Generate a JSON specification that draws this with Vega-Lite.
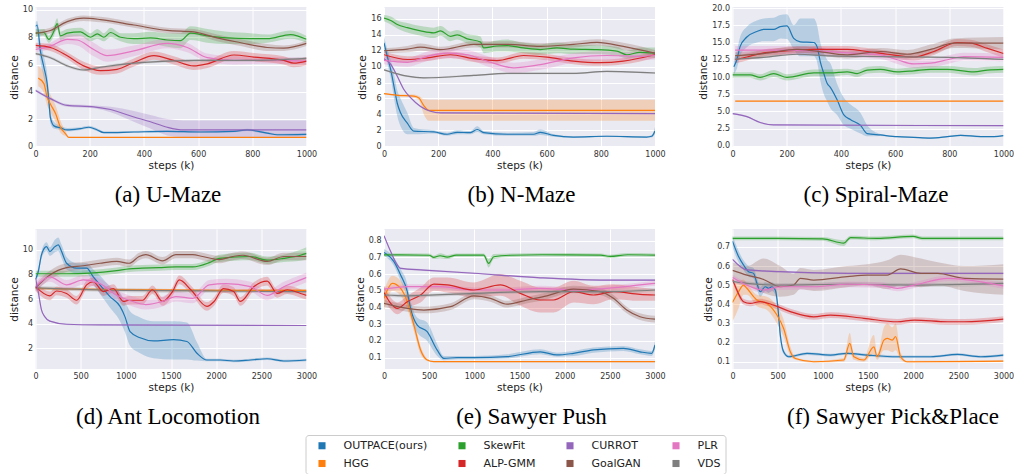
{
"$schema": "https://vega.github.io/schema/vega-lite/v6.json",
"padding": {"left": 8.5, "top": 4, "right": 2, "bottom": 0},
"background": "white",
"data": {"values": [
{"p":"a","m":"OUTPACE(ours)","x":0,"y":8.8,"lo":8.5,"hi":9.1},
{"p":"a","m":"OUTPACE(ours)","x":6,"y":8.9,"lo":8.5,"hi":9.2},
{"p":"a","m":"OUTPACE(ours)","x":18,"y":7.0,"lo":6.3,"hi":7.7},
{"p":"a","m":"OUTPACE(ours)","x":31,"y":5.8,"lo":5.0,"hi":6.6},
{"p":"a","m":"OUTPACE(ours)","x":43,"y":4.6,"lo":3.9,"hi":5.3},
{"p":"a","m":"OUTPACE(ours)","x":49,"y":3.4,"lo":2.8,"hi":4.1},
{"p":"a","m":"OUTPACE(ours)","x":55,"y":2.1,"lo":1.7,"hi":2.6},
{"p":"a","m":"OUTPACE(ours)","x":68,"y":1.5,"lo":1.3,"hi":1.8},
{"p":"a","m":"OUTPACE(ours)","x":92,"y":1.35,"lo":1.2,"hi":1.5},
{"p":"a","m":"OUTPACE(ours)","x":117,"y":1.2,"lo":1.1,"hi":1.35},
{"p":"a","m":"OUTPACE(ours)","x":166,"y":1.3,"lo":1.2,"hi":1.4},
{"p":"a","m":"OUTPACE(ours)","x":197,"y":1.4,"lo":1.3,"hi":1.5},
{"p":"a","m":"OUTPACE(ours)","x":228,"y":1.2,"lo":1.1,"hi":1.3},
{"p":"a","m":"OUTPACE(ours)","x":252,"y":1.0,"lo":0.95,"hi":1.1},
{"p":"a","m":"OUTPACE(ours)","x":363,"y":1.05,"lo":1.0,"hi":1.12},
{"p":"a","m":"OUTPACE(ours)","x":486,"y":1.1,"lo":1.03,"hi":1.17},
{"p":"a","m":"OUTPACE(ours)","x":609,"y":1.05,"lo":1.0,"hi":1.12},
{"p":"a","m":"OUTPACE(ours)","x":732,"y":1.1,"lo":1.03,"hi":1.17},
{"p":"a","m":"OUTPACE(ours)","x":781,"y":1.2,"lo":1.12,"hi":1.28},
{"p":"a","m":"OUTPACE(ours)","x":855,"y":0.97,"lo":0.9,"hi":1.05},
{"p":"a","m":"OUTPACE(ours)","x":892,"y":0.85,"lo":0.8,"hi":0.92},
{"p":"a","m":"OUTPACE(ours)","x":1000,"y":0.88,"lo":0.82,"hi":0.95},
{"p":"a","m":"HGG","x":10,"y":5.0,"lo":4.4,"hi":5.9},
{"p":"a","m":"HGG","x":31,"y":4.6,"lo":3.9,"hi":5.4},
{"p":"a","m":"HGG","x":43,"y":3.6,"lo":3.0,"hi":4.4},
{"p":"a","m":"HGG","x":55,"y":3.1,"lo":2.5,"hi":3.8},
{"p":"a","m":"HGG","x":74,"y":2.4,"lo":1.8,"hi":3.0},
{"p":"a","m":"HGG","x":92,"y":1.4,"lo":1.0,"hi":1.9},
{"p":"a","m":"HGG","x":111,"y":0.92,"lo":0.75,"hi":1.1},
{"p":"a","m":"HGG","x":123,"y":0.65,"lo":0.63,"hi":0.7},
{"p":"a","m":"HGG","x":200,"y":0.65,"lo":0.64,"hi":0.66},
{"p":"a","m":"HGG","x":1000,"y":0.65,"lo":0.64,"hi":0.66},
{"p":"a","m":"SkewFit","x":0,"y":8.3,"lo":8.0,"hi":8.6},
{"p":"a","m":"SkewFit","x":31,"y":8.35,"lo":8.1,"hi":8.6},
{"p":"a","m":"SkewFit","x":49,"y":7.85,"lo":7.6,"hi":8.1},
{"p":"a","m":"SkewFit","x":68,"y":8.45,"lo":8.1,"hi":8.8},
{"p":"a","m":"SkewFit","x":80,"y":9.0,"lo":8.6,"hi":9.4},
{"p":"a","m":"SkewFit","x":92,"y":8.1,"lo":7.8,"hi":8.4},
{"p":"a","m":"SkewFit","x":117,"y":8.3,"lo":8.0,"hi":8.6},
{"p":"a","m":"SkewFit","x":166,"y":8.4,"lo":8.1,"hi":8.7},
{"p":"a","m":"SkewFit","x":203,"y":8.0,"lo":7.7,"hi":8.3},
{"p":"a","m":"SkewFit","x":228,"y":8.25,"lo":7.9,"hi":8.6},
{"p":"a","m":"SkewFit","x":252,"y":8.0,"lo":7.7,"hi":8.3},
{"p":"a","m":"SkewFit","x":277,"y":8.35,"lo":8.0,"hi":8.7},
{"p":"a","m":"SkewFit","x":314,"y":8.0,"lo":7.7,"hi":8.3},
{"p":"a","m":"SkewFit","x":363,"y":7.9,"lo":7.5,"hi":8.3},
{"p":"a","m":"SkewFit","x":424,"y":7.95,"lo":7.5,"hi":8.4},
{"p":"a","m":"SkewFit","x":486,"y":7.8,"lo":7.3,"hi":8.3},
{"p":"a","m":"SkewFit","x":535,"y":7.75,"lo":7.2,"hi":8.3},
{"p":"a","m":"SkewFit","x":572,"y":8.3,"lo":7.8,"hi":8.8},
{"p":"a","m":"SkewFit","x":634,"y":8.1,"lo":7.6,"hi":8.6},
{"p":"a","m":"SkewFit","x":707,"y":7.95,"lo":7.5,"hi":8.4},
{"p":"a","m":"SkewFit","x":793,"y":7.9,"lo":7.5,"hi":8.3},
{"p":"a","m":"SkewFit","x":855,"y":7.9,"lo":7.6,"hi":8.2},
{"p":"a","m":"SkewFit","x":941,"y":8.2,"lo":7.9,"hi":8.5},
{"p":"a","m":"SkewFit","x":1000,"y":7.85,"lo":7.6,"hi":8.1},
{"p":"a","m":"GoalGAN","x":0,"y":8.3,"lo":8.1,"hi":8.5},
{"p":"a","m":"GoalGAN","x":55,"y":8.5,"lo":8.3,"hi":8.7},
{"p":"a","m":"GoalGAN","x":117,"y":9.15,"lo":8.95,"hi":9.35},
{"p":"a","m":"GoalGAN","x":178,"y":9.4,"lo":9.2,"hi":9.6},
{"p":"a","m":"GoalGAN","x":240,"y":9.3,"lo":9.1,"hi":9.5},
{"p":"a","m":"GoalGAN","x":363,"y":8.9,"lo":8.7,"hi":9.1},
{"p":"a","m":"GoalGAN","x":486,"y":8.5,"lo":8.3,"hi":8.7},
{"p":"a","m":"GoalGAN","x":584,"y":8.4,"lo":8.2,"hi":8.6},
{"p":"a","m":"GoalGAN","x":670,"y":7.95,"lo":7.7,"hi":8.2},
{"p":"a","m":"GoalGAN","x":758,"y":7.6,"lo":7.35,"hi":7.85},
{"p":"a","m":"GoalGAN","x":855,"y":7.25,"lo":7.0,"hi":7.5},
{"p":"a","m":"GoalGAN","x":916,"y":7.2,"lo":7.0,"hi":7.4},
{"p":"a","m":"GoalGAN","x":1000,"y":7.55,"lo":7.35,"hi":7.75},
{"p":"a","m":"PLR","x":0,"y":7.1,"lo":6.9,"hi":7.3},
{"p":"a","m":"PLR","x":55,"y":7.35,"lo":7.1,"hi":7.6},
{"p":"a","m":"PLR","x":117,"y":7.85,"lo":7.5,"hi":8.2},
{"p":"a","m":"PLR","x":154,"y":7.8,"lo":7.4,"hi":8.2},
{"p":"a","m":"PLR","x":215,"y":7.1,"lo":6.6,"hi":7.6},
{"p":"a","m":"PLR","x":264,"y":6.65,"lo":6.2,"hi":7.1},
{"p":"a","m":"PLR","x":363,"y":7.0,"lo":6.6,"hi":7.4},
{"p":"a","m":"PLR","x":486,"y":7.55,"lo":7.2,"hi":7.9},
{"p":"a","m":"PLR","x":560,"y":7.25,"lo":6.9,"hi":7.6},
{"p":"a","m":"PLR","x":634,"y":6.5,"lo":6.2,"hi":6.8},
{"p":"a","m":"PLR","x":732,"y":6.3,"lo":6.0,"hi":6.6},
{"p":"a","m":"PLR","x":855,"y":6.3,"lo":6.05,"hi":6.55},
{"p":"a","m":"PLR","x":1000,"y":6.25,"lo":6.0,"hi":6.5},
{"p":"a","m":"ALP-GMM","x":0,"y":7.4,"lo":7.2,"hi":7.6},
{"p":"a","m":"ALP-GMM","x":55,"y":7.25,"lo":7.0,"hi":7.5},
{"p":"a","m":"ALP-GMM","x":117,"y":6.65,"lo":6.4,"hi":6.9},
{"p":"a","m":"ALP-GMM","x":178,"y":5.9,"lo":5.6,"hi":6.2},
{"p":"a","m":"ALP-GMM","x":240,"y":5.55,"lo":5.25,"hi":5.85},
{"p":"a","m":"ALP-GMM","x":301,"y":5.65,"lo":5.35,"hi":5.95},
{"p":"a","m":"ALP-GMM","x":363,"y":6.15,"lo":5.85,"hi":6.45},
{"p":"a","m":"ALP-GMM","x":437,"y":6.65,"lo":6.35,"hi":6.95},
{"p":"a","m":"ALP-GMM","x":510,"y":6.3,"lo":6.0,"hi":6.6},
{"p":"a","m":"ALP-GMM","x":584,"y":5.9,"lo":5.6,"hi":6.2},
{"p":"a","m":"ALP-GMM","x":634,"y":6.05,"lo":5.75,"hi":6.35},
{"p":"a","m":"ALP-GMM","x":732,"y":6.7,"lo":6.4,"hi":7.0},
{"p":"a","m":"ALP-GMM","x":806,"y":6.55,"lo":6.25,"hi":6.85},
{"p":"a","m":"ALP-GMM","x":916,"y":6.3,"lo":6.0,"hi":6.6},
{"p":"a","m":"ALP-GMM","x":953,"y":6.1,"lo":5.8,"hi":6.4},
{"p":"a","m":"ALP-GMM","x":1000,"y":6.25,"lo":5.95,"hi":6.55},
{"p":"a","m":"VDS","x":0,"y":6.8,"lo":6.7,"hi":6.9},
{"p":"a","m":"VDS","x":55,"y":6.5,"lo":6.4,"hi":6.6},
{"p":"a","m":"VDS","x":117,"y":5.9,"lo":5.8,"hi":6.0},
{"p":"a","m":"VDS","x":178,"y":5.6,"lo":5.5,"hi":5.7},
{"p":"a","m":"VDS","x":240,"y":5.8,"lo":5.7,"hi":5.9},
{"p":"a","m":"VDS","x":363,"y":6.1,"lo":6.0,"hi":6.2},
{"p":"a","m":"VDS","x":486,"y":6.25,"lo":6.15,"hi":6.35},
{"p":"a","m":"VDS","x":609,"y":6.3,"lo":6.2,"hi":6.4},
{"p":"a","m":"VDS","x":793,"y":6.3,"lo":6.2,"hi":6.4},
{"p":"a","m":"VDS","x":1000,"y":6.45,"lo":6.35,"hi":6.55},
{"p":"a","m":"CURROT","x":0,"y":4.1,"lo":4.0,"hi":4.2},
{"p":"a","m":"CURROT","x":55,"y":3.5,"lo":3.4,"hi":3.6},
{"p":"a","m":"CURROT","x":117,"y":3.0,"lo":2.9,"hi":3.1},
{"p":"a","m":"CURROT","x":215,"y":2.9,"lo":2.8,"hi":3.0},
{"p":"a","m":"CURROT","x":277,"y":2.7,"lo":2.5,"hi":2.9},
{"p":"a","m":"CURROT","x":363,"y":2.15,"lo":1.8,"hi":2.6},
{"p":"a","m":"CURROT","x":424,"y":1.8,"lo":1.3,"hi":2.3},
{"p":"a","m":"CURROT","x":486,"y":1.4,"lo":0.8,"hi":2.0},
{"p":"a","m":"CURROT","x":547,"y":1.2,"lo":0.68,"hi":1.9},
{"p":"a","m":"CURROT","x":1000,"y":1.2,"lo":0.68,"hi":1.9},
{"p":"b","m":"OUTPACE(ours)","x":0,"y":13.0,"lo":12.5,"hi":13.8},
{"p":"b","m":"OUTPACE(ours)","x":12,"y":11.3,"lo":10.5,"hi":12.2},
{"p":"b","m":"OUTPACE(ours)","x":25,"y":9.6,"lo":8.5,"hi":10.8},
{"p":"b","m":"OUTPACE(ours)","x":37,"y":7.5,"lo":6.0,"hi":9.0},
{"p":"b","m":"OUTPACE(ours)","x":49,"y":5.4,"lo":3.8,"hi":7.0},
{"p":"b","m":"OUTPACE(ours)","x":61,"y":4.2,"lo":2.5,"hi":6.0},
{"p":"b","m":"OUTPACE(ours)","x":86,"y":2.9,"lo":1.5,"hi":4.2},
{"p":"b","m":"OUTPACE(ours)","x":110,"y":1.9,"lo":1.5,"hi":2.3},
{"p":"b","m":"OUTPACE(ours)","x":184,"y":1.8,"lo":1.6,"hi":2.0},
{"p":"b","m":"OUTPACE(ours)","x":233,"y":1.5,"lo":1.3,"hi":1.7},
{"p":"b","m":"OUTPACE(ours)","x":270,"y":1.75,"lo":1.5,"hi":2.0},
{"p":"b","m":"OUTPACE(ours)","x":319,"y":1.7,"lo":1.5,"hi":1.9},
{"p":"b","m":"OUTPACE(ours)","x":344,"y":2.1,"lo":1.8,"hi":2.5},
{"p":"b","m":"OUTPACE(ours)","x":368,"y":1.7,"lo":1.5,"hi":1.9},
{"p":"b","m":"OUTPACE(ours)","x":454,"y":1.5,"lo":1.3,"hi":1.7},
{"p":"b","m":"OUTPACE(ours)","x":552,"y":1.5,"lo":1.3,"hi":1.8},
{"p":"b","m":"OUTPACE(ours)","x":577,"y":1.75,"lo":1.4,"hi":2.1},
{"p":"b","m":"OUTPACE(ours)","x":626,"y":1.35,"lo":1.2,"hi":1.5},
{"p":"b","m":"OUTPACE(ours)","x":699,"y":1.15,"lo":1.05,"hi":1.25},
{"p":"b","m":"OUTPACE(ours)","x":822,"y":1.25,"lo":1.15,"hi":1.35},
{"p":"b","m":"OUTPACE(ours)","x":969,"y":1.15,"lo":1.05,"hi":1.25},
{"p":"b","m":"OUTPACE(ours)","x":988,"y":1.25,"lo":1.1,"hi":1.4},
{"p":"b","m":"OUTPACE(ours)","x":1000,"y":1.9,"lo":1.5,"hi":2.4},
{"p":"b","m":"HGG","x":0,"y":6.6,"lo":6.5,"hi":6.7},
{"p":"b","m":"HGG","x":49,"y":6.4,"lo":6.3,"hi":6.5},
{"p":"b","m":"HGG","x":110,"y":6.3,"lo":6.1,"hi":6.5},
{"p":"b","m":"HGG","x":129,"y":6.05,"lo":5.8,"hi":6.3},
{"p":"b","m":"HGG","x":147,"y":5.1,"lo":4.0,"hi":5.9},
{"p":"b","m":"HGG","x":166,"y":4.5,"lo":3.2,"hi":5.85},
{"p":"b","m":"HGG","x":1000,"y":4.5,"lo":3.2,"hi":5.85},
{"p":"b","m":"CURROT","x":0,"y":11.0,"lo":10.9,"hi":11.1},
{"p":"b","m":"CURROT","x":25,"y":10.3,"lo":10.2,"hi":10.4},
{"p":"b","m":"CURROT","x":49,"y":8.8,"lo":8.7,"hi":8.9},
{"p":"b","m":"CURROT","x":74,"y":7.1,"lo":7.0,"hi":7.2},
{"p":"b","m":"CURROT","x":98,"y":6.1,"lo":6.0,"hi":6.2},
{"p":"b","m":"CURROT","x":135,"y":5.0,"lo":4.9,"hi":5.1},
{"p":"b","m":"CURROT","x":172,"y":4.4,"lo":4.3,"hi":4.5},
{"p":"b","m":"CURROT","x":209,"y":4.2,"lo":4.1,"hi":4.3},
{"p":"b","m":"CURROT","x":1000,"y":4.1,"lo":4.0,"hi":4.2},
{"p":"b","m":"SkewFit","x":0,"y":16.1,"lo":15.7,"hi":16.5},
{"p":"b","m":"SkewFit","x":25,"y":15.8,"lo":15.3,"hi":16.3},
{"p":"b","m":"SkewFit","x":49,"y":15.3,"lo":14.8,"hi":15.8},
{"p":"b","m":"SkewFit","x":86,"y":14.9,"lo":14.3,"hi":15.5},
{"p":"b","m":"SkewFit","x":135,"y":14.5,"lo":13.9,"hi":15.1},
{"p":"b","m":"SkewFit","x":184,"y":14.25,"lo":13.6,"hi":14.9},
{"p":"b","m":"SkewFit","x":209,"y":14.5,"lo":13.9,"hi":15.1},
{"p":"b","m":"SkewFit","x":245,"y":13.8,"lo":13.2,"hi":14.4},
{"p":"b","m":"SkewFit","x":270,"y":14.0,"lo":13.4,"hi":14.6},
{"p":"b","m":"SkewFit","x":307,"y":13.5,"lo":12.9,"hi":14.1},
{"p":"b","m":"SkewFit","x":356,"y":13.1,"lo":12.4,"hi":13.8},
{"p":"b","m":"SkewFit","x":368,"y":12.35,"lo":11.7,"hi":13.0},
{"p":"b","m":"SkewFit","x":417,"y":12.6,"lo":11.9,"hi":13.3},
{"p":"b","m":"SkewFit","x":454,"y":12.65,"lo":11.9,"hi":13.4},
{"p":"b","m":"SkewFit","x":515,"y":12.35,"lo":11.7,"hi":13.0},
{"p":"b","m":"SkewFit","x":577,"y":12.15,"lo":11.5,"hi":12.8},
{"p":"b","m":"SkewFit","x":638,"y":12.35,"lo":11.7,"hi":13.0},
{"p":"b","m":"SkewFit","x":699,"y":12.2,"lo":11.6,"hi":12.8},
{"p":"b","m":"SkewFit","x":786,"y":12.15,"lo":11.6,"hi":12.7},
{"p":"b","m":"SkewFit","x":859,"y":11.95,"lo":11.4,"hi":12.5},
{"p":"b","m":"SkewFit","x":896,"y":11.5,"lo":11.0,"hi":12.0},
{"p":"b","m":"SkewFit","x":945,"y":11.8,"lo":11.2,"hi":12.4},
{"p":"b","m":"SkewFit","x":1000,"y":11.7,"lo":11.1,"hi":12.4},
{"p":"b","m":"GoalGAN","x":0,"y":12.0,"lo":11.7,"hi":12.3},
{"p":"b","m":"GoalGAN","x":86,"y":12.2,"lo":11.8,"hi":12.6},
{"p":"b","m":"GoalGAN","x":135,"y":12.45,"lo":12.0,"hi":12.9},
{"p":"b","m":"GoalGAN","x":209,"y":12.15,"lo":11.8,"hi":12.5},
{"p":"b","m":"GoalGAN","x":331,"y":12.8,"lo":12.4,"hi":13.2},
{"p":"b","m":"GoalGAN","x":454,"y":12.8,"lo":12.4,"hi":13.2},
{"p":"b","m":"GoalGAN","x":577,"y":12.55,"lo":12.15,"hi":12.95},
{"p":"b","m":"GoalGAN","x":699,"y":12.8,"lo":12.4,"hi":13.2},
{"p":"b","m":"GoalGAN","x":786,"y":13.05,"lo":12.65,"hi":13.45},
{"p":"b","m":"GoalGAN","x":883,"y":12.55,"lo":12.1,"hi":13.0},
{"p":"b","m":"GoalGAN","x":1000,"y":11.7,"lo":11.3,"hi":12.1},
{"p":"b","m":"ALP-GMM","x":0,"y":11.5,"lo":11.1,"hi":11.9},
{"p":"b","m":"ALP-GMM","x":86,"y":10.9,"lo":10.5,"hi":11.3},
{"p":"b","m":"ALP-GMM","x":160,"y":11.1,"lo":10.7,"hi":11.5},
{"p":"b","m":"ALP-GMM","x":245,"y":11.5,"lo":11.1,"hi":11.9},
{"p":"b","m":"ALP-GMM","x":331,"y":11.0,"lo":10.6,"hi":11.4},
{"p":"b","m":"ALP-GMM","x":417,"y":10.75,"lo":10.35,"hi":11.15},
{"p":"b","m":"ALP-GMM","x":515,"y":11.4,"lo":11.0,"hi":11.8},
{"p":"b","m":"ALP-GMM","x":601,"y":11.2,"lo":10.8,"hi":11.6},
{"p":"b","m":"ALP-GMM","x":699,"y":10.7,"lo":10.3,"hi":11.1},
{"p":"b","m":"ALP-GMM","x":798,"y":10.5,"lo":10.1,"hi":10.9},
{"p":"b","m":"ALP-GMM","x":883,"y":10.7,"lo":10.3,"hi":11.1},
{"p":"b","m":"ALP-GMM","x":1000,"y":11.5,"lo":11.1,"hi":11.9},
{"p":"b","m":"PLR","x":0,"y":10.8,"lo":10.3,"hi":11.3},
{"p":"b","m":"PLR","x":86,"y":10.55,"lo":10.0,"hi":11.1},
{"p":"b","m":"PLR","x":160,"y":11.3,"lo":10.7,"hi":11.9},
{"p":"b","m":"PLR","x":233,"y":11.7,"lo":11.1,"hi":12.3},
{"p":"b","m":"PLR","x":307,"y":11.5,"lo":10.9,"hi":12.1},
{"p":"b","m":"PLR","x":393,"y":10.55,"lo":9.9,"hi":11.2},
{"p":"b","m":"PLR","x":479,"y":9.85,"lo":9.2,"hi":10.5},
{"p":"b","m":"PLR","x":577,"y":10.25,"lo":9.6,"hi":10.9},
{"p":"b","m":"PLR","x":699,"y":11.1,"lo":10.5,"hi":11.7},
{"p":"b","m":"PLR","x":822,"y":11.4,"lo":10.8,"hi":12.0},
{"p":"b","m":"PLR","x":945,"y":11.3,"lo":10.8,"hi":11.8},
{"p":"b","m":"PLR","x":1000,"y":11.4,"lo":10.9,"hi":11.9},
{"p":"b","m":"VDS","x":0,"y":9.6,"lo":9.5,"hi":9.7},
{"p":"b","m":"VDS","x":86,"y":8.8,"lo":8.7,"hi":8.9},
{"p":"b","m":"VDS","x":147,"y":8.6,"lo":8.5,"hi":8.7},
{"p":"b","m":"VDS","x":331,"y":8.9,"lo":8.8,"hi":9.0},
{"p":"b","m":"VDS","x":454,"y":9.15,"lo":9.05,"hi":9.25},
{"p":"b","m":"VDS","x":577,"y":9.15,"lo":9.05,"hi":9.25},
{"p":"b","m":"VDS","x":699,"y":9.15,"lo":9.05,"hi":9.25},
{"p":"b","m":"VDS","x":822,"y":9.4,"lo":9.3,"hi":9.5},
{"p":"b","m":"VDS","x":1000,"y":9.2,"lo":9.1,"hi":9.3},
{"p":"c","m":"OUTPACE(ours)","x":5,"y":11.5,"lo":10.4,"hi":12.5},
{"p":"c","m":"OUTPACE(ours)","x":16,"y":12.5,"lo":11.2,"hi":13.8},
{"p":"c","m":"OUTPACE(ours)","x":28,"y":14.4,"lo":13.0,"hi":15.8},
{"p":"c","m":"OUTPACE(ours)","x":53,"y":15.8,"lo":14.3,"hi":17.3},
{"p":"c","m":"OUTPACE(ours)","x":90,"y":16.6,"lo":15.0,"hi":18.2},
{"p":"c","m":"OUTPACE(ours)","x":115,"y":16.9,"lo":15.2,"hi":18.5},
{"p":"c","m":"OUTPACE(ours)","x":152,"y":16.9,"lo":15.2,"hi":18.6},
{"p":"c","m":"OUTPACE(ours)","x":176,"y":17.3,"lo":15.6,"hi":19.0},
{"p":"c","m":"OUTPACE(ours)","x":201,"y":17.4,"lo":15.5,"hi":19.1},
{"p":"c","m":"OUTPACE(ours)","x":226,"y":15.6,"lo":14.0,"hi":17.5},
{"p":"c","m":"OUTPACE(ours)","x":250,"y":15.1,"lo":13.0,"hi":18.5},
{"p":"c","m":"OUTPACE(ours)","x":300,"y":15.0,"lo":13.0,"hi":18.5},
{"p":"c","m":"OUTPACE(ours)","x":312,"y":14.4,"lo":12.2,"hi":17.5},
{"p":"c","m":"OUTPACE(ours)","x":324,"y":12.2,"lo":9.5,"hi":15.0},
{"p":"c","m":"OUTPACE(ours)","x":337,"y":10.5,"lo":7.5,"hi":13.5},
{"p":"c","m":"OUTPACE(ours)","x":349,"y":9.1,"lo":6.5,"hi":12.5},
{"p":"c","m":"OUTPACE(ours)","x":361,"y":8.5,"lo":5.5,"hi":12.0},
{"p":"c","m":"OUTPACE(ours)","x":386,"y":6.7,"lo":4.5,"hi":9.0},
{"p":"c","m":"OUTPACE(ours)","x":411,"y":4.5,"lo":3.0,"hi":7.0},
{"p":"c","m":"OUTPACE(ours)","x":436,"y":3.8,"lo":2.5,"hi":6.0},
{"p":"c","m":"OUTPACE(ours)","x":472,"y":3.0,"lo":1.8,"hi":4.8},
{"p":"c","m":"OUTPACE(ours)","x":497,"y":1.8,"lo":1.4,"hi":3.0},
{"p":"c","m":"OUTPACE(ours)","x":546,"y":1.6,"lo":1.45,"hi":1.75},
{"p":"c","m":"OUTPACE(ours)","x":608,"y":1.35,"lo":1.25,"hi":1.45},
{"p":"c","m":"OUTPACE(ours)","x":669,"y":1.25,"lo":1.15,"hi":1.35},
{"p":"c","m":"OUTPACE(ours)","x":731,"y":1.15,"lo":1.05,"hi":1.25},
{"p":"c","m":"OUTPACE(ours)","x":793,"y":1.35,"lo":1.25,"hi":1.45},
{"p":"c","m":"OUTPACE(ours)","x":842,"y":1.55,"lo":1.45,"hi":1.65},
{"p":"c","m":"OUTPACE(ours)","x":916,"y":1.35,"lo":1.25,"hi":1.45},
{"p":"c","m":"OUTPACE(ours)","x":965,"y":1.35,"lo":1.25,"hi":1.45},
{"p":"c","m":"OUTPACE(ours)","x":1000,"y":1.5,"lo":1.4,"hi":1.6},
{"p":"c","m":"SkewFit","x":0,"y":10.3,"lo":9.9,"hi":10.7},
{"p":"c","m":"SkewFit","x":65,"y":10.3,"lo":9.9,"hi":10.7},
{"p":"c","m":"SkewFit","x":102,"y":9.95,"lo":9.5,"hi":10.4},
{"p":"c","m":"SkewFit","x":152,"y":10.5,"lo":10.0,"hi":11.0},
{"p":"c","m":"SkewFit","x":201,"y":9.95,"lo":9.5,"hi":10.4},
{"p":"c","m":"SkewFit","x":300,"y":10.6,"lo":10.1,"hi":11.1},
{"p":"c","m":"SkewFit","x":361,"y":10.6,"lo":10.1,"hi":11.1},
{"p":"c","m":"SkewFit","x":423,"y":10.75,"lo":10.3,"hi":11.2},
{"p":"c","m":"SkewFit","x":460,"y":10.5,"lo":10.0,"hi":11.0},
{"p":"c","m":"SkewFit","x":497,"y":11.0,"lo":10.5,"hi":11.5},
{"p":"c","m":"SkewFit","x":546,"y":11.1,"lo":10.6,"hi":11.6},
{"p":"c","m":"SkewFit","x":608,"y":10.75,"lo":10.3,"hi":11.2},
{"p":"c","m":"SkewFit","x":669,"y":10.9,"lo":10.4,"hi":11.4},
{"p":"c","m":"SkewFit","x":731,"y":11.1,"lo":10.6,"hi":11.6},
{"p":"c","m":"SkewFit","x":793,"y":11.1,"lo":10.6,"hi":11.6},
{"p":"c","m":"SkewFit","x":891,"y":10.75,"lo":10.2,"hi":11.3},
{"p":"c","m":"SkewFit","x":941,"y":11.0,"lo":10.5,"hi":11.5},
{"p":"c","m":"SkewFit","x":1000,"y":11.1,"lo":10.6,"hi":11.6},
{"p":"c","m":"HGG","x":10,"y":6.5,"lo":6.45,"hi":6.55},
{"p":"c","m":"HGG","x":500,"y":6.5,"lo":6.45,"hi":6.55},
{"p":"c","m":"HGG","x":1000,"y":6.5,"lo":6.45,"hi":6.55},
{"p":"c","m":"CURROT","x":0,"y":4.7,"lo":4.6,"hi":4.8},
{"p":"c","m":"CURROT","x":53,"y":4.25,"lo":4.15,"hi":4.35},
{"p":"c","m":"CURROT","x":102,"y":3.4,"lo":3.3,"hi":3.5},
{"p":"c","m":"CURROT","x":152,"y":3.05,"lo":2.95,"hi":3.15},
{"p":"c","m":"CURROT","x":1000,"y":2.95,"lo":2.85,"hi":3.05},
{"p":"c","m":"ALP-GMM","x":10,"y":12.5,"lo":12.0,"hi":13.0},
{"p":"c","m":"ALP-GMM","x":53,"y":12.9,"lo":12.4,"hi":13.4},
{"p":"c","m":"ALP-GMM","x":115,"y":13.5,"lo":13.0,"hi":14.0},
{"p":"c","m":"ALP-GMM","x":176,"y":13.7,"lo":13.2,"hi":14.2},
{"p":"c","m":"ALP-GMM","x":238,"y":13.9,"lo":13.4,"hi":14.4},
{"p":"c","m":"ALP-GMM","x":300,"y":14.0,"lo":13.5,"hi":14.5},
{"p":"c","m":"ALP-GMM","x":423,"y":14.0,"lo":13.5,"hi":14.5},
{"p":"c","m":"ALP-GMM","x":497,"y":13.7,"lo":13.2,"hi":14.2},
{"p":"c","m":"ALP-GMM","x":571,"y":13.3,"lo":12.8,"hi":13.8},
{"p":"c","m":"ALP-GMM","x":669,"y":12.9,"lo":12.4,"hi":13.4},
{"p":"c","m":"ALP-GMM","x":743,"y":13.7,"lo":13.2,"hi":14.2},
{"p":"c","m":"ALP-GMM","x":830,"y":15.0,"lo":14.5,"hi":15.5},
{"p":"c","m":"ALP-GMM","x":879,"y":14.9,"lo":14.4,"hi":15.4},
{"p":"c","m":"ALP-GMM","x":941,"y":14.15,"lo":13.6,"hi":14.7},
{"p":"c","m":"ALP-GMM","x":1000,"y":13.4,"lo":12.8,"hi":14.0},
{"p":"c","m":"PLR","x":10,"y":13.9,"lo":13.3,"hi":14.5},
{"p":"c","m":"PLR","x":176,"y":13.9,"lo":13.3,"hi":14.5},
{"p":"c","m":"PLR","x":300,"y":13.8,"lo":13.2,"hi":14.4},
{"p":"c","m":"PLR","x":423,"y":13.5,"lo":12.9,"hi":14.1},
{"p":"c","m":"PLR","x":546,"y":13.2,"lo":12.6,"hi":13.8},
{"p":"c","m":"PLR","x":608,"y":12.5,"lo":11.9,"hi":13.1},
{"p":"c","m":"PLR","x":669,"y":11.9,"lo":11.3,"hi":12.5},
{"p":"c","m":"PLR","x":731,"y":12.0,"lo":11.4,"hi":12.6},
{"p":"c","m":"PLR","x":793,"y":12.5,"lo":11.9,"hi":13.1},
{"p":"c","m":"PLR","x":854,"y":12.95,"lo":12.4,"hi":13.5},
{"p":"c","m":"PLR","x":1000,"y":12.85,"lo":12.3,"hi":13.4},
{"p":"c","m":"GoalGAN","x":10,"y":13.1,"lo":12.6,"hi":13.6},
{"p":"c","m":"GoalGAN","x":115,"y":13.4,"lo":12.9,"hi":13.9},
{"p":"c","m":"GoalGAN","x":238,"y":14.0,"lo":13.5,"hi":14.5},
{"p":"c","m":"GoalGAN","x":300,"y":13.8,"lo":13.3,"hi":14.3},
{"p":"c","m":"GoalGAN","x":423,"y":13.2,"lo":12.7,"hi":13.7},
{"p":"c","m":"GoalGAN","x":546,"y":13.7,"lo":13.2,"hi":14.2},
{"p":"c","m":"GoalGAN","x":644,"y":13.3,"lo":12.7,"hi":13.9},
{"p":"c","m":"GoalGAN","x":731,"y":14.0,"lo":13.3,"hi":14.7},
{"p":"c","m":"GoalGAN","x":817,"y":14.9,"lo":14.2,"hi":15.6},
{"p":"c","m":"GoalGAN","x":1000,"y":14.9,"lo":14.0,"hi":15.8},
{"p":"c","m":"VDS","x":10,"y":12.6,"lo":12.5,"hi":12.7},
{"p":"c","m":"VDS","x":115,"y":12.85,"lo":12.75,"hi":12.95},
{"p":"c","m":"VDS","x":238,"y":13.3,"lo":13.2,"hi":13.4},
{"p":"c","m":"VDS","x":361,"y":13.05,"lo":12.95,"hi":13.15},
{"p":"c","m":"VDS","x":546,"y":12.95,"lo":12.85,"hi":13.05},
{"p":"c","m":"VDS","x":793,"y":12.85,"lo":12.75,"hi":12.95},
{"p":"c","m":"VDS","x":1000,"y":12.55,"lo":12.45,"hi":12.65},
{"p":"d","m":"OUTPACE(ours)","x":0,"y":7.6,"lo":7.3,"hi":7.9},
{"p":"d","m":"OUTPACE(ours)","x":30,"y":8.2,"lo":7.9,"hi":8.5},
{"p":"d","m":"OUTPACE(ours)","x":67,"y":9.6,"lo":9.3,"hi":9.9},
{"p":"d","m":"OUTPACE(ours)","x":122,"y":10.25,"lo":9.9,"hi":10.6},
{"p":"d","m":"OUTPACE(ours)","x":159,"y":9.85,"lo":9.5,"hi":10.2},
{"p":"d","m":"OUTPACE(ours)","x":215,"y":10.25,"lo":9.8,"hi":10.8},
{"p":"d","m":"OUTPACE(ours)","x":252,"y":10.4,"lo":9.9,"hi":11.0},
{"p":"d","m":"OUTPACE(ours)","x":289,"y":9.85,"lo":9.3,"hi":10.4},
{"p":"d","m":"OUTPACE(ours)","x":344,"y":8.9,"lo":8.4,"hi":9.4},
{"p":"d","m":"OUTPACE(ours)","x":455,"y":8.5,"lo":8.1,"hi":8.9},
{"p":"d","m":"OUTPACE(ours)","x":566,"y":8.5,"lo":8.1,"hi":8.9},
{"p":"d","m":"OUTPACE(ours)","x":640,"y":7.8,"lo":7.2,"hi":8.4},
{"p":"d","m":"OUTPACE(ours)","x":714,"y":7.15,"lo":6.4,"hi":7.9},
{"p":"d","m":"OUTPACE(ours)","x":825,"y":6.2,"lo":5.3,"hi":7.0},
{"p":"d","m":"OUTPACE(ours)","x":936,"y":5.4,"lo":4.2,"hi":6.5},
{"p":"d","m":"OUTPACE(ours)","x":991,"y":4.55,"lo":3.3,"hi":5.8},
{"p":"d","m":"OUTPACE(ours)","x":1047,"y":3.35,"lo":2.2,"hi":5.0},
{"p":"d","m":"OUTPACE(ours)","x":1158,"y":2.85,"lo":1.6,"hi":4.5},
{"p":"d","m":"OUTPACE(ours)","x":1306,"y":2.6,"lo":1.2,"hi":4.2},
{"p":"d","m":"OUTPACE(ours)","x":1528,"y":2.7,"lo":1.1,"hi":4.2},
{"p":"d","m":"OUTPACE(ours)","x":1676,"y":2.55,"lo":1.1,"hi":4.1},
{"p":"d","m":"OUTPACE(ours)","x":1787,"y":1.6,"lo":1.0,"hi":2.5},
{"p":"d","m":"OUTPACE(ours)","x":1898,"y":1.05,"lo":0.95,"hi":1.15},
{"p":"d","m":"OUTPACE(ours)","x":2046,"y":1.05,"lo":0.95,"hi":1.15},
{"p":"d","m":"OUTPACE(ours)","x":2194,"y":0.97,"lo":0.87,"hi":1.07},
{"p":"d","m":"OUTPACE(ours)","x":2379,"y":1.05,"lo":0.95,"hi":1.15},
{"p":"d","m":"OUTPACE(ours)","x":2564,"y":1.15,"lo":1.05,"hi":1.25},
{"p":"d","m":"OUTPACE(ours)","x":2749,"y":0.97,"lo":0.87,"hi":1.07},
{"p":"d","m":"OUTPACE(ours)","x":3000,"y":1.05,"lo":0.95,"hi":1.15},
{"p":"d","m":"SkewFit","x":0,"y":8.05,"lo":7.8,"hi":8.3},
{"p":"d","m":"SkewFit","x":344,"y":8.05,"lo":7.8,"hi":8.3},
{"p":"d","m":"SkewFit","x":603,"y":8.1,"lo":7.85,"hi":8.35},
{"p":"d","m":"SkewFit","x":899,"y":8.3,"lo":8.05,"hi":8.55},
{"p":"d","m":"SkewFit","x":1036,"y":8.45,"lo":8.2,"hi":8.7},
{"p":"d","m":"SkewFit","x":1184,"y":8.5,"lo":8.25,"hi":8.75},
{"p":"d","m":"SkewFit","x":1369,"y":8.55,"lo":8.3,"hi":8.8},
{"p":"d","m":"SkewFit","x":1554,"y":8.6,"lo":8.35,"hi":8.85},
{"p":"d","m":"SkewFit","x":1739,"y":8.6,"lo":8.35,"hi":8.85},
{"p":"d","m":"SkewFit","x":1924,"y":8.95,"lo":8.7,"hi":9.2},
{"p":"d","m":"SkewFit","x":2035,"y":9.3,"lo":9.0,"hi":9.6},
{"p":"d","m":"SkewFit","x":2379,"y":9.45,"lo":9.15,"hi":9.75},
{"p":"d","m":"SkewFit","x":2564,"y":9.15,"lo":8.85,"hi":9.45},
{"p":"d","m":"SkewFit","x":2749,"y":9.3,"lo":9.0,"hi":9.6},
{"p":"d","m":"SkewFit","x":2934,"y":9.55,"lo":9.1,"hi":10.0},
{"p":"d","m":"SkewFit","x":3000,"y":9.7,"lo":9.2,"hi":10.2},
{"p":"d","m":"GoalGAN","x":0,"y":6.9,"lo":6.6,"hi":7.2},
{"p":"d","m":"GoalGAN","x":159,"y":7.95,"lo":7.6,"hi":8.3},
{"p":"d","m":"GoalGAN","x":344,"y":8.55,"lo":8.2,"hi":8.9},
{"p":"d","m":"GoalGAN","x":529,"y":8.7,"lo":8.4,"hi":9.0},
{"p":"d","m":"GoalGAN","x":714,"y":8.9,"lo":8.6,"hi":9.2},
{"p":"d","m":"GoalGAN","x":899,"y":9.05,"lo":8.75,"hi":9.35},
{"p":"d","m":"GoalGAN","x":1036,"y":8.9,"lo":8.6,"hi":9.2},
{"p":"d","m":"GoalGAN","x":1147,"y":9.45,"lo":9.15,"hi":9.75},
{"p":"d","m":"GoalGAN","x":1221,"y":9.6,"lo":9.3,"hi":9.9},
{"p":"d","m":"GoalGAN","x":1406,"y":9.1,"lo":8.8,"hi":9.4},
{"p":"d","m":"GoalGAN","x":1554,"y":9.6,"lo":9.3,"hi":9.9},
{"p":"d","m":"GoalGAN","x":1739,"y":9.6,"lo":9.3,"hi":9.9},
{"p":"d","m":"GoalGAN","x":1850,"y":9.45,"lo":9.15,"hi":9.75},
{"p":"d","m":"GoalGAN","x":2035,"y":9.2,"lo":8.9,"hi":9.5},
{"p":"d","m":"GoalGAN","x":2183,"y":9.45,"lo":9.15,"hi":9.75},
{"p":"d","m":"GoalGAN","x":2294,"y":9.55,"lo":9.25,"hi":9.85},
{"p":"d","m":"GoalGAN","x":2564,"y":9.05,"lo":8.75,"hi":9.35},
{"p":"d","m":"GoalGAN","x":2749,"y":9.45,"lo":9.15,"hi":9.75},
{"p":"d","m":"GoalGAN","x":3000,"y":9.45,"lo":9.15,"hi":9.75},
{"p":"d","m":"HGG","x":0,"y":6.85,"lo":6.75,"hi":6.95},
{"p":"d","m":"HGG","x":1000,"y":6.75,"lo":6.65,"hi":6.85},
{"p":"d","m":"HGG","x":2000,"y":6.7,"lo":6.6,"hi":6.8},
{"p":"d","m":"HGG","x":3000,"y":6.7,"lo":6.6,"hi":6.8},
{"p":"d","m":"VDS","x":0,"y":6.9,"lo":6.75,"hi":7.05},
{"p":"d","m":"VDS","x":1000,"y":6.7,"lo":6.55,"hi":6.85},
{"p":"d","m":"VDS","x":2000,"y":6.65,"lo":6.5,"hi":6.8},
{"p":"d","m":"VDS","x":3000,"y":6.6,"lo":6.45,"hi":6.75},
{"p":"d","m":"ALP-GMM","x":0,"y":7.0,"lo":6.65,"hi":7.35},
{"p":"d","m":"ALP-GMM","x":159,"y":6.25,"lo":5.9,"hi":6.6},
{"p":"d","m":"ALP-GMM","x":233,"y":6.65,"lo":6.3,"hi":7.0},
{"p":"d","m":"ALP-GMM","x":344,"y":6.45,"lo":6.1,"hi":6.8},
{"p":"d","m":"ALP-GMM","x":455,"y":5.9,"lo":5.55,"hi":6.25},
{"p":"d","m":"ALP-GMM","x":566,"y":7.15,"lo":6.8,"hi":7.5},
{"p":"d","m":"ALP-GMM","x":640,"y":7.4,"lo":7.05,"hi":7.75},
{"p":"d","m":"ALP-GMM","x":751,"y":6.6,"lo":6.25,"hi":6.95},
{"p":"d","m":"ALP-GMM","x":862,"y":6.85,"lo":6.5,"hi":7.2},
{"p":"d","m":"ALP-GMM","x":973,"y":5.8,"lo":5.45,"hi":6.15},
{"p":"d","m":"ALP-GMM","x":1036,"y":5.9,"lo":5.55,"hi":6.25},
{"p":"d","m":"ALP-GMM","x":1184,"y":5.9,"lo":5.55,"hi":6.25},
{"p":"d","m":"ALP-GMM","x":1295,"y":6.75,"lo":6.4,"hi":7.1},
{"p":"d","m":"ALP-GMM","x":1406,"y":5.8,"lo":5.45,"hi":6.15},
{"p":"d","m":"ALP-GMM","x":1517,"y":6.6,"lo":6.25,"hi":6.95},
{"p":"d","m":"ALP-GMM","x":1591,"y":7.55,"lo":7.2,"hi":7.9},
{"p":"d","m":"ALP-GMM","x":1720,"y":6.75,"lo":6.4,"hi":7.1},
{"p":"d","m":"ALP-GMM","x":1898,"y":5.4,"lo":5.05,"hi":5.75},
{"p":"d","m":"ALP-GMM","x":1977,"y":5.8,"lo":5.45,"hi":6.15},
{"p":"d","m":"ALP-GMM","x":2080,"y":6.85,"lo":6.5,"hi":7.2},
{"p":"d","m":"ALP-GMM","x":2194,"y":6.6,"lo":6.25,"hi":6.95},
{"p":"d","m":"ALP-GMM","x":2268,"y":5.8,"lo":5.45,"hi":6.15},
{"p":"d","m":"ALP-GMM","x":2416,"y":7.0,"lo":6.65,"hi":7.35},
{"p":"d","m":"ALP-GMM","x":2564,"y":7.45,"lo":7.1,"hi":7.8},
{"p":"d","m":"ALP-GMM","x":2675,"y":6.45,"lo":6.1,"hi":6.8},
{"p":"d","m":"ALP-GMM","x":2786,"y":6.75,"lo":6.4,"hi":7.1},
{"p":"d","m":"ALP-GMM","x":2934,"y":6.45,"lo":6.1,"hi":6.8},
{"p":"d","m":"ALP-GMM","x":3000,"y":6.3,"lo":5.95,"hi":6.65},
{"p":"d","m":"PLR","x":0,"y":7.0,"lo":6.6,"hi":7.4},
{"p":"d","m":"PLR","x":159,"y":7.8,"lo":7.4,"hi":8.2},
{"p":"d","m":"PLR","x":344,"y":7.15,"lo":6.75,"hi":7.55},
{"p":"d","m":"PLR","x":529,"y":7.55,"lo":7.15,"hi":7.95},
{"p":"d","m":"PLR","x":714,"y":7.25,"lo":6.85,"hi":7.65},
{"p":"d","m":"PLR","x":899,"y":6.3,"lo":5.9,"hi":6.7},
{"p":"d","m":"PLR","x":1036,"y":5.9,"lo":5.5,"hi":6.3},
{"p":"d","m":"PLR","x":1221,"y":5.55,"lo":5.15,"hi":5.95},
{"p":"d","m":"PLR","x":1406,"y":5.8,"lo":5.4,"hi":6.2},
{"p":"d","m":"PLR","x":1554,"y":6.2,"lo":5.8,"hi":6.6},
{"p":"d","m":"PLR","x":1739,"y":6.05,"lo":5.65,"hi":6.45},
{"p":"d","m":"PLR","x":1924,"y":7.15,"lo":6.75,"hi":7.55},
{"p":"d","m":"PLR","x":2110,"y":7.25,"lo":6.85,"hi":7.65},
{"p":"d","m":"PLR","x":2379,"y":7.0,"lo":6.6,"hi":7.4},
{"p":"d","m":"PLR","x":2564,"y":6.3,"lo":5.9,"hi":6.7},
{"p":"d","m":"PLR","x":2749,"y":7.0,"lo":6.6,"hi":7.4},
{"p":"d","m":"PLR","x":2934,"y":7.55,"lo":7.15,"hi":7.95},
{"p":"d","m":"PLR","x":3000,"y":7.75,"lo":7.35,"hi":8.15},
{"p":"d","m":"CURROT","x":0,"y":7.7,"lo":7.6,"hi":7.8},
{"p":"d","m":"CURROT","x":30,"y":6.6,"lo":6.5,"hi":6.7},
{"p":"d","m":"CURROT","x":67,"y":5.1,"lo":5.0,"hi":5.2},
{"p":"d","m":"CURROT","x":104,"y":4.55,"lo":4.5,"hi":4.6},
{"p":"d","m":"CURROT","x":159,"y":4.2,"lo":4.15,"hi":4.25},
{"p":"d","m":"CURROT","x":344,"y":3.95,"lo":3.9,"hi":4.0},
{"p":"d","m":"CURROT","x":714,"y":3.9,"lo":3.85,"hi":3.95},
{"p":"d","m":"CURROT","x":3000,"y":3.85,"lo":3.8,"hi":3.9},
{"p":"e","m":"OUTPACE(ours)","x":0,"y":0.73,"lo":0.71,"hi":0.75},
{"p":"e","m":"OUTPACE(ours)","x":110,"y":0.675,"lo":0.65,"hi":0.7},
{"p":"e","m":"OUTPACE(ours)","x":184,"y":0.595,"lo":0.56,"hi":0.63},
{"p":"e","m":"OUTPACE(ours)","x":258,"y":0.495,"lo":0.45,"hi":0.54},
{"p":"e","m":"OUTPACE(ours)","x":294,"y":0.395,"lo":0.35,"hi":0.44},
{"p":"e","m":"OUTPACE(ours)","x":368,"y":0.295,"lo":0.25,"hi":0.34},
{"p":"e","m":"OUTPACE(ours)","x":478,"y":0.255,"lo":0.2,"hi":0.31},
{"p":"e","m":"OUTPACE(ours)","x":589,"y":0.145,"lo":0.11,"hi":0.18},
{"p":"e","m":"OUTPACE(ours)","x":662,"y":0.096,"lo":0.085,"hi":0.11},
{"p":"e","m":"OUTPACE(ours)","x":810,"y":0.1,"lo":0.09,"hi":0.11},
{"p":"e","m":"OUTPACE(ours)","x":994,"y":0.1,"lo":0.09,"hi":0.11},
{"p":"e","m":"OUTPACE(ours)","x":1362,"y":0.106,"lo":0.095,"hi":0.12},
{"p":"e","m":"OUTPACE(ours)","x":1730,"y":0.135,"lo":0.12,"hi":0.15},
{"p":"e","m":"OUTPACE(ours)","x":1914,"y":0.116,"lo":0.105,"hi":0.13},
{"p":"e","m":"OUTPACE(ours)","x":2098,"y":0.126,"lo":0.11,"hi":0.14},
{"p":"e","m":"OUTPACE(ours)","x":2319,"y":0.146,"lo":0.13,"hi":0.16},
{"p":"e","m":"OUTPACE(ours)","x":2650,"y":0.156,"lo":0.14,"hi":0.17},
{"p":"e","m":"OUTPACE(ours)","x":2834,"y":0.135,"lo":0.12,"hi":0.15},
{"p":"e","m":"OUTPACE(ours)","x":2963,"y":0.126,"lo":0.11,"hi":0.14},
{"p":"e","m":"OUTPACE(ours)","x":3000,"y":0.176,"lo":0.15,"hi":0.2},
{"p":"e","m":"HGG","x":0,"y":0.455,"lo":0.38,"hi":0.5},
{"p":"e","m":"HGG","x":92,"y":0.545,"lo":0.5,"hi":0.59},
{"p":"e","m":"HGG","x":184,"y":0.515,"lo":0.47,"hi":0.56},
{"p":"e","m":"HGG","x":258,"y":0.435,"lo":0.39,"hi":0.48},
{"p":"e","m":"HGG","x":331,"y":0.295,"lo":0.26,"hi":0.33},
{"p":"e","m":"HGG","x":405,"y":0.146,"lo":0.12,"hi":0.17},
{"p":"e","m":"HGG","x":478,"y":0.086,"lo":0.08,"hi":0.095},
{"p":"e","m":"HGG","x":552,"y":0.076,"lo":0.072,"hi":0.08},
{"p":"e","m":"HGG","x":3000,"y":0.076,"lo":0.072,"hi":0.08},
{"p":"e","m":"SkewFit","x":0,"y":0.715,"lo":0.705,"hi":0.725},
{"p":"e","m":"SkewFit","x":500,"y":0.713,"lo":0.703,"hi":0.723},
{"p":"e","m":"SkewFit","x":550,"y":0.7,"lo":0.69,"hi":0.71},
{"p":"e","m":"SkewFit","x":620,"y":0.71,"lo":0.695,"hi":0.725},
{"p":"e","m":"SkewFit","x":700,"y":0.702,"lo":0.69,"hi":0.715},
{"p":"e","m":"SkewFit","x":800,"y":0.714,"lo":0.704,"hi":0.724},
{"p":"e","m":"SkewFit","x":1104,"y":0.714,"lo":0.704,"hi":0.724},
{"p":"e","m":"SkewFit","x":1159,"y":0.664,"lo":0.64,"hi":0.69},
{"p":"e","m":"SkewFit","x":1215,"y":0.704,"lo":0.69,"hi":0.72},
{"p":"e","m":"SkewFit","x":1400,"y":0.713,"lo":0.703,"hi":0.723},
{"p":"e","m":"SkewFit","x":1750,"y":0.716,"lo":0.706,"hi":0.726},
{"p":"e","m":"SkewFit","x":2400,"y":0.714,"lo":0.704,"hi":0.724},
{"p":"e","m":"SkewFit","x":2500,"y":0.706,"lo":0.696,"hi":0.716},
{"p":"e","m":"SkewFit","x":2700,"y":0.716,"lo":0.706,"hi":0.726},
{"p":"e","m":"SkewFit","x":3000,"y":0.714,"lo":0.704,"hi":0.724},
{"p":"e","m":"CURROT","x":0,"y":0.83,"lo":0.825,"hi":0.835},
{"p":"e","m":"CURROT","x":74,"y":0.735,"lo":0.73,"hi":0.74},
{"p":"e","m":"CURROT","x":147,"y":0.655,"lo":0.65,"hi":0.66},
{"p":"e","m":"CURROT","x":184,"y":0.634,"lo":0.629,"hi":0.639},
{"p":"e","m":"CURROT","x":442,"y":0.624,"lo":0.619,"hi":0.629},
{"p":"e","m":"CURROT","x":994,"y":0.605,"lo":0.6,"hi":0.61},
{"p":"e","m":"CURROT","x":1730,"y":0.578,"lo":0.573,"hi":0.583},
{"p":"e","m":"CURROT","x":2466,"y":0.564,"lo":0.559,"hi":0.569},
{"p":"e","m":"CURROT","x":3000,"y":0.564,"lo":0.559,"hi":0.569},
{"p":"e","m":"PLR","x":0,"y":0.51,"lo":0.495,"hi":0.525},
{"p":"e","m":"PLR","x":258,"y":0.525,"lo":0.51,"hi":0.54},
{"p":"e","m":"PLR","x":626,"y":0.525,"lo":0.51,"hi":0.54},
{"p":"e","m":"PLR","x":994,"y":0.505,"lo":0.49,"hi":0.52},
{"p":"e","m":"PLR","x":1362,"y":0.505,"lo":0.49,"hi":0.52},
{"p":"e","m":"PLR","x":1730,"y":0.515,"lo":0.5,"hi":0.53},
{"p":"e","m":"PLR","x":2098,"y":0.505,"lo":0.49,"hi":0.52},
{"p":"e","m":"PLR","x":2466,"y":0.515,"lo":0.5,"hi":0.53},
{"p":"e","m":"PLR","x":2834,"y":0.535,"lo":0.52,"hi":0.55},
{"p":"e","m":"PLR","x":3000,"y":0.545,"lo":0.53,"hi":0.56},
{"p":"e","m":"ALP-GMM","x":0,"y":0.49,"lo":0.45,"hi":0.53},
{"p":"e","m":"ALP-GMM","x":74,"y":0.425,"lo":0.39,"hi":0.46},
{"p":"e","m":"ALP-GMM","x":147,"y":0.395,"lo":0.36,"hi":0.43},
{"p":"e","m":"ALP-GMM","x":258,"y":0.435,"lo":0.4,"hi":0.47},
{"p":"e","m":"ALP-GMM","x":405,"y":0.475,"lo":0.43,"hi":0.52},
{"p":"e","m":"ALP-GMM","x":552,"y":0.54,"lo":0.5,"hi":0.58},
{"p":"e","m":"ALP-GMM","x":699,"y":0.535,"lo":0.49,"hi":0.58},
{"p":"e","m":"ALP-GMM","x":994,"y":0.505,"lo":0.46,"hi":0.55},
{"p":"e","m":"ALP-GMM","x":1288,"y":0.535,"lo":0.47,"hi":0.6},
{"p":"e","m":"ALP-GMM","x":1509,"y":0.485,"lo":0.41,"hi":0.56},
{"p":"e","m":"ALP-GMM","x":1730,"y":0.445,"lo":0.37,"hi":0.52},
{"p":"e","m":"ALP-GMM","x":1877,"y":0.445,"lo":0.37,"hi":0.52},
{"p":"e","m":"ALP-GMM","x":2098,"y":0.495,"lo":0.43,"hi":0.56},
{"p":"e","m":"ALP-GMM","x":2319,"y":0.475,"lo":0.42,"hi":0.53},
{"p":"e","m":"ALP-GMM","x":2540,"y":0.495,"lo":0.45,"hi":0.54},
{"p":"e","m":"ALP-GMM","x":2834,"y":0.479,"lo":0.44,"hi":0.52},
{"p":"e","m":"ALP-GMM","x":3000,"y":0.475,"lo":0.44,"hi":0.51},
{"p":"e","m":"GoalGAN","x":0,"y":0.425,"lo":0.405,"hi":0.445},
{"p":"e","m":"GoalGAN","x":258,"y":0.395,"lo":0.375,"hi":0.415},
{"p":"e","m":"GoalGAN","x":442,"y":0.385,"lo":0.365,"hi":0.405},
{"p":"e","m":"GoalGAN","x":736,"y":0.405,"lo":0.385,"hi":0.425},
{"p":"e","m":"GoalGAN","x":994,"y":0.47,"lo":0.45,"hi":0.49},
{"p":"e","m":"GoalGAN","x":1178,"y":0.455,"lo":0.435,"hi":0.475},
{"p":"e","m":"GoalGAN","x":1362,"y":0.42,"lo":0.4,"hi":0.44},
{"p":"e","m":"GoalGAN","x":1583,"y":0.445,"lo":0.425,"hi":0.465},
{"p":"e","m":"GoalGAN","x":1803,"y":0.47,"lo":0.45,"hi":0.49},
{"p":"e","m":"GoalGAN","x":2098,"y":0.51,"lo":0.49,"hi":0.53},
{"p":"e","m":"GoalGAN","x":2393,"y":0.495,"lo":0.475,"hi":0.515},
{"p":"e","m":"GoalGAN","x":2540,"y":0.455,"lo":0.435,"hi":0.475},
{"p":"e","m":"GoalGAN","x":2687,"y":0.385,"lo":0.365,"hi":0.405},
{"p":"e","m":"GoalGAN","x":2834,"y":0.345,"lo":0.325,"hi":0.365},
{"p":"e","m":"GoalGAN","x":3000,"y":0.33,"lo":0.31,"hi":0.35},
{"p":"e","m":"VDS","x":0,"y":0.475,"lo":0.465,"hi":0.485},
{"p":"e","m":"VDS","x":258,"y":0.47,"lo":0.46,"hi":0.48},
{"p":"e","m":"VDS","x":994,"y":0.485,"lo":0.475,"hi":0.495},
{"p":"e","m":"VDS","x":1730,"y":0.495,"lo":0.485,"hi":0.505},
{"p":"e","m":"VDS","x":2466,"y":0.495,"lo":0.485,"hi":0.505},
{"p":"e","m":"VDS","x":3000,"y":0.505,"lo":0.495,"hi":0.515},
{"p":"f","m":"SkewFit","x":0,"y":0.745,"lo":0.735,"hi":0.755},
{"p":"f","m":"SkewFit","x":500,"y":0.745,"lo":0.735,"hi":0.755},
{"p":"f","m":"SkewFit","x":1000,"y":0.742,"lo":0.732,"hi":0.752},
{"p":"f","m":"SkewFit","x":1232,"y":0.72,"lo":0.705,"hi":0.735},
{"p":"f","m":"SkewFit","x":1306,"y":0.749,"lo":0.739,"hi":0.759},
{"p":"f","m":"SkewFit","x":1600,"y":0.745,"lo":0.735,"hi":0.755},
{"p":"f","m":"SkewFit","x":2000,"y":0.755,"lo":0.745,"hi":0.765},
{"p":"f","m":"SkewFit","x":2100,"y":0.745,"lo":0.735,"hi":0.755},
{"p":"f","m":"SkewFit","x":3000,"y":0.745,"lo":0.735,"hi":0.755},
{"p":"f","m":"OUTPACE(ours)","x":0,"y":0.73,"lo":0.7,"hi":0.76},
{"p":"f","m":"OUTPACE(ours)","x":67,"y":0.65,"lo":0.62,"hi":0.68},
{"p":"f","m":"OUTPACE(ours)","x":122,"y":0.606,"lo":0.58,"hi":0.63},
{"p":"f","m":"OUTPACE(ours)","x":178,"y":0.571,"lo":0.545,"hi":0.6},
{"p":"f","m":"OUTPACE(ours)","x":233,"y":0.562,"lo":0.535,"hi":0.59},
{"p":"f","m":"OUTPACE(ours)","x":270,"y":0.51,"lo":0.48,"hi":0.54},
{"p":"f","m":"OUTPACE(ours)","x":307,"y":0.466,"lo":0.44,"hi":0.49},
{"p":"f","m":"OUTPACE(ours)","x":363,"y":0.492,"lo":0.47,"hi":0.515},
{"p":"f","m":"OUTPACE(ours)","x":400,"y":0.484,"lo":0.46,"hi":0.51},
{"p":"f","m":"OUTPACE(ours)","x":437,"y":0.492,"lo":0.47,"hi":0.515},
{"p":"f","m":"OUTPACE(ours)","x":474,"y":0.475,"lo":0.45,"hi":0.5},
{"p":"f","m":"OUTPACE(ours)","x":500,"y":0.396,"lo":0.36,"hi":0.43},
{"p":"f","m":"OUTPACE(ours)","x":529,"y":0.24,"lo":0.21,"hi":0.27},
{"p":"f","m":"OUTPACE(ours)","x":566,"y":0.152,"lo":0.14,"hi":0.165},
{"p":"f","m":"OUTPACE(ours)","x":622,"y":0.126,"lo":0.12,"hi":0.135},
{"p":"f","m":"OUTPACE(ours)","x":825,"y":0.144,"lo":0.135,"hi":0.15},
{"p":"f","m":"OUTPACE(ours)","x":1084,"y":0.135,"lo":0.128,"hi":0.142},
{"p":"f","m":"OUTPACE(ours)","x":1269,"y":0.144,"lo":0.137,"hi":0.15},
{"p":"f","m":"OUTPACE(ours)","x":1491,"y":0.135,"lo":0.128,"hi":0.142},
{"p":"f","m":"OUTPACE(ours)","x":1824,"y":0.126,"lo":0.12,"hi":0.133},
{"p":"f","m":"OUTPACE(ours)","x":2194,"y":0.126,"lo":0.12,"hi":0.133},
{"p":"f","m":"OUTPACE(ours)","x":2490,"y":0.138,"lo":0.131,"hi":0.145},
{"p":"f","m":"OUTPACE(ours)","x":2749,"y":0.126,"lo":0.12,"hi":0.133},
{"p":"f","m":"OUTPACE(ours)","x":3000,"y":0.135,"lo":0.128,"hi":0.142},
{"p":"f","m":"HGG","x":0,"y":0.41,"lo":0.31,"hi":0.5},
{"p":"f","m":"HGG","x":67,"y":0.466,"lo":0.38,"hi":0.52},
{"p":"f","m":"HGG","x":122,"y":0.501,"lo":0.45,"hi":0.53},
{"p":"f","m":"HGG","x":159,"y":0.484,"lo":0.45,"hi":0.51},
{"p":"f","m":"HGG","x":270,"y":0.423,"lo":0.39,"hi":0.45},
{"p":"f","m":"HGG","x":381,"y":0.405,"lo":0.37,"hi":0.44},
{"p":"f","m":"HGG","x":492,"y":0.344,"lo":0.3,"hi":0.39},
{"p":"f","m":"HGG","x":566,"y":0.274,"lo":0.23,"hi":0.32},
{"p":"f","m":"HGG","x":640,"y":0.152,"lo":0.13,"hi":0.18},
{"p":"f","m":"HGG","x":696,"y":0.117,"lo":0.11,"hi":0.125},
{"p":"f","m":"HGG","x":899,"y":0.1,"lo":0.095,"hi":0.105},
{"p":"f","m":"HGG","x":1232,"y":0.109,"lo":0.1,"hi":0.12},
{"p":"f","m":"HGG","x":1298,"y":0.196,"lo":0.15,"hi":0.25},
{"p":"f","m":"HGG","x":1343,"y":0.126,"lo":0.11,"hi":0.14},
{"p":"f","m":"HGG","x":1454,"y":0.109,"lo":0.1,"hi":0.12},
{"p":"f","m":"HGG","x":1565,"y":0.178,"lo":0.14,"hi":0.24},
{"p":"f","m":"HGG","x":1602,"y":0.126,"lo":0.11,"hi":0.14},
{"p":"f","m":"HGG","x":1676,"y":0.213,"lo":0.16,"hi":0.28},
{"p":"f","m":"HGG","x":1713,"y":0.222,"lo":0.16,"hi":0.3},
{"p":"f","m":"HGG","x":1769,"y":0.213,"lo":0.15,"hi":0.28},
{"p":"f","m":"HGG","x":1806,"y":0.231,"lo":0.16,"hi":0.3},
{"p":"f","m":"HGG","x":1861,"y":0.126,"lo":0.11,"hi":0.15},
{"p":"f","m":"HGG","x":1935,"y":0.1,"lo":0.095,"hi":0.105},
{"p":"f","m":"HGG","x":3000,"y":0.103,"lo":0.098,"hi":0.108},
{"p":"f","m":"ALP-GMM","x":0,"y":0.53,"lo":0.515,"hi":0.545},
{"p":"f","m":"ALP-GMM","x":48,"y":0.475,"lo":0.46,"hi":0.49},
{"p":"f","m":"ALP-GMM","x":122,"y":0.414,"lo":0.399,"hi":0.429},
{"p":"f","m":"ALP-GMM","x":196,"y":0.405,"lo":0.39,"hi":0.42},
{"p":"f","m":"ALP-GMM","x":307,"y":0.414,"lo":0.399,"hi":0.429},
{"p":"f","m":"ALP-GMM","x":455,"y":0.396,"lo":0.381,"hi":0.411},
{"p":"f","m":"ALP-GMM","x":640,"y":0.362,"lo":0.347,"hi":0.377},
{"p":"f","m":"ALP-GMM","x":899,"y":0.335,"lo":0.32,"hi":0.35},
{"p":"f","m":"ALP-GMM","x":1084,"y":0.344,"lo":0.329,"hi":0.359},
{"p":"f","m":"ALP-GMM","x":1454,"y":0.327,"lo":0.312,"hi":0.342},
{"p":"f","m":"ALP-GMM","x":1824,"y":0.309,"lo":0.294,"hi":0.324},
{"p":"f","m":"ALP-GMM","x":2013,"y":0.318,"lo":0.303,"hi":0.333},
{"p":"f","m":"ALP-GMM","x":2383,"y":0.309,"lo":0.294,"hi":0.324},
{"p":"f","m":"ALP-GMM","x":2568,"y":0.309,"lo":0.294,"hi":0.324},
{"p":"f","m":"ALP-GMM","x":3000,"y":0.323,"lo":0.308,"hi":0.338},
{"p":"f","m":"CURROT","x":0,"y":0.635,"lo":0.63,"hi":0.64},
{"p":"f","m":"CURROT","x":159,"y":0.58,"lo":0.575,"hi":0.585},
{"p":"f","m":"CURROT","x":529,"y":0.571,"lo":0.566,"hi":0.576},
{"p":"f","m":"CURROT","x":1269,"y":0.562,"lo":0.557,"hi":0.567},
{"p":"f","m":"CURROT","x":2013,"y":0.562,"lo":0.557,"hi":0.567},
{"p":"f","m":"CURROT","x":3000,"y":0.562,"lo":0.557,"hi":0.567},
{"p":"f","m":"GoalGAN","x":0,"y":0.578,"lo":0.54,"hi":0.62},
{"p":"f","m":"GoalGAN","x":159,"y":0.553,"lo":0.5,"hi":0.6},
{"p":"f","m":"GoalGAN","x":344,"y":0.53,"lo":0.46,"hi":0.64},
{"p":"f","m":"GoalGAN","x":529,"y":0.492,"lo":0.44,"hi":0.6},
{"p":"f","m":"GoalGAN","x":677,"y":0.501,"lo":0.45,"hi":0.56},
{"p":"f","m":"GoalGAN","x":751,"y":0.536,"lo":0.48,"hi":0.59},
{"p":"f","m":"GoalGAN","x":899,"y":0.527,"lo":0.47,"hi":0.58},
{"p":"f","m":"GoalGAN","x":1269,"y":0.545,"lo":0.49,"hi":0.6},
{"p":"f","m":"GoalGAN","x":1491,"y":0.553,"lo":0.5,"hi":0.61},
{"p":"f","m":"GoalGAN","x":1713,"y":0.553,"lo":0.48,"hi":0.63},
{"p":"f","m":"GoalGAN","x":1861,"y":0.585,"lo":0.5,"hi":0.66},
{"p":"f","m":"GoalGAN","x":2087,"y":0.562,"lo":0.49,"hi":0.64},
{"p":"f","m":"GoalGAN","x":2272,"y":0.562,"lo":0.5,"hi":0.62},
{"p":"f","m":"GoalGAN","x":2568,"y":0.536,"lo":0.47,"hi":0.6},
{"p":"f","m":"GoalGAN","x":3000,"y":0.532,"lo":0.45,"hi":0.61},
{"p":"f","m":"VDS","x":0,"y":0.52,"lo":0.51,"hi":0.53},
{"p":"f","m":"VDS","x":159,"y":0.51,"lo":0.5,"hi":0.52},
{"p":"f","m":"VDS","x":529,"y":0.501,"lo":0.491,"hi":0.511},
{"p":"f","m":"VDS","x":1269,"y":0.505,"lo":0.495,"hi":0.515},
{"p":"f","m":"VDS","x":2013,"y":0.501,"lo":0.491,"hi":0.511},
{"p":"f","m":"VDS","x":3000,"y":0.51,"lo":0.5,"hi":0.52},
{"p":"f","m":"PLR","x":0,"y":0.54,"lo":0.525,"hi":0.555},
{"p":"f","m":"PLR","x":159,"y":0.5,"lo":0.485,"hi":0.515},
{"p":"f","m":"PLR","x":344,"y":0.475,"lo":0.46,"hi":0.49},
{"p":"f","m":"PLR","x":529,"y":0.492,"lo":0.477,"hi":0.507},
{"p":"f","m":"PLR","x":899,"y":0.492,"lo":0.477,"hi":0.507},
{"p":"f","m":"PLR","x":1269,"y":0.505,"lo":0.49,"hi":0.52},
{"p":"f","m":"PLR","x":1639,"y":0.501,"lo":0.486,"hi":0.516},
{"p":"f","m":"PLR","x":1824,"y":0.484,"lo":0.469,"hi":0.499},
{"p":"f","m":"PLR","x":2013,"y":0.501,"lo":0.486,"hi":0.516},
{"p":"f","m":"PLR","x":2383,"y":0.536,"lo":0.521,"hi":0.551},
{"p":"f","m":"PLR","x":2753,"y":0.518,"lo":0.503,"hi":0.533},
{"p":"f","m":"PLR","x":3000,"y":0.497,"lo":0.482,"hi":0.512}
]},
"bounds": "flush",
"columns": 3,
"spacing": {"row": 82, "column": 77.5},
"concat": [
 {"width": 271, "height": 140, "title": {"text": "(a) U-Maze", "dx": -3},
  "transform": [{"filter": "datum.p == 'a'"}],
  "encoding": {"x": {"field": "x", "type": "quantitative", "title": "steps (k)", "scale": {"domain": [0, 1000], "nice": false}, "axis": {"values": [0,200,400,600,800,1000], "format": "d"}},
   "color": {"field": "m", "type": "nominal", "scale": {"domain": ["OUTPACE(ours)","HGG","SkewFit","ALP-GMM","CURROT","GoalGAN","PLR","VDS"], "range": ["#1f77b4","#ff7f0e","#2ca02c","#d62728","#9467bd","#8c564b","#e377c2","#7f7f7f"]}, "legend": {"title": null, "orient": "none", "legendX": 270, "legendY": 428, "columns": 4}}},
  "layer": [
   {"mark": {"type": "area", "opacity": 0.25, "interpolate": "monotone", "clip": true}, "encoding": {"y": {"field": "lo", "type": "quantitative", "title": "distance", "scale": {"domain": [-0.05, 10.22], "nice": false, "zero": false}, "axis": {"values": [0,2,4,6,8,10]}}, "y2": {"field": "hi"}}},
   {"mark": {"type": "line", "strokeWidth": 1.2, "interpolate": "monotone", "clip": true}, "encoding": {"y": {"field": "y", "type": "quantitative", "title": "distance", "scale": {"domain": [-0.05, 10.22], "nice": false, "zero": false}, "axis": {"values": [0,2,4,6,8,10]}}}}
  ]},
 {"width": 271, "height": 140, "title": {"text": "(b) N-Maze", "dx": 2},
  "transform": [{"filter": "datum.p == 'b'"}],
  "encoding": {"x": {"field": "x", "type": "quantitative", "title": "steps (k)", "scale": {"domain": [0, 1000], "nice": false}, "axis": {"values": [0,200,400,600,800,1000], "format": "d"}},
   "color": {"field": "m", "type": "nominal", "scale": {"domain": ["OUTPACE(ours)","HGG","SkewFit","ALP-GMM","CURROT","GoalGAN","PLR","VDS"], "range": ["#1f77b4","#ff7f0e","#2ca02c","#d62728","#9467bd","#8c564b","#e377c2","#7f7f7f"]}, "legend": {"title": null, "orient": "none", "legendX": 270, "legendY": 428, "columns": 4}}},
  "layer": [
   {"mark": {"type": "area", "opacity": 0.25, "interpolate": "monotone", "clip": true}, "encoding": {"y": {"field": "lo", "type": "quantitative", "title": "distance", "scale": {"domain": [-0.1, 17.5], "nice": false, "zero": false}, "axis": {"values": [0,2,4,6,8,10,12,14,16]}}, "y2": {"field": "hi"}}},
   {"mark": {"type": "line", "strokeWidth": 1.2, "interpolate": "monotone", "clip": true}, "encoding": {"y": {"field": "y", "type": "quantitative", "title": "distance", "scale": {"domain": [-0.1, 17.5], "nice": false, "zero": false}, "axis": {"values": [0,2,4,6,8,10,12,14,16]}}}}
  ]},
 {"width": 271, "height": 140, "title": {"text": "(c) Spiral-Maze", "dx": 8},
  "transform": [{"filter": "datum.p == 'c'"}],
  "encoding": {"x": {"field": "x", "type": "quantitative", "title": "steps (k)", "scale": {"domain": [0, 1000], "nice": false}, "axis": {"values": [0,200,400,600,800,1000], "format": "d"}},
   "color": {"field": "m", "type": "nominal", "scale": {"domain": ["OUTPACE(ours)","HGG","SkewFit","ALP-GMM","CURROT","GoalGAN","PLR","VDS"], "range": ["#1f77b4","#ff7f0e","#2ca02c","#d62728","#9467bd","#8c564b","#e377c2","#7f7f7f"]}, "legend": {"title": null, "orient": "none", "legendX": 270, "legendY": 428, "columns": 4}}},
  "layer": [
   {"mark": {"type": "area", "opacity": 0.25, "interpolate": "monotone", "clip": true}, "encoding": {"y": {"field": "lo", "type": "quantitative", "title": "distance", "scale": {"domain": [-0.15, 20.15], "nice": false, "zero": false}, "axis": {"values": [0,2.5,5,7.5,10,12.5,15,17.5,20], "format": ".1f"}}, "y2": {"field": "hi"}}},
   {"mark": {"type": "line", "strokeWidth": 1.2, "interpolate": "monotone", "clip": true}, "encoding": {"y": {"field": "y", "type": "quantitative", "title": "distance", "scale": {"domain": [-0.15, 20.15], "nice": false, "zero": false}, "axis": {"values": [0,2.5,5,7.5,10,12.5,15,17.5,20], "format": ".1f"}}}}
  ]},
 {"width": 271, "height": 140, "title": {"text": "(d) Ant Locomotion", "dx": -3},
  "transform": [{"filter": "datum.p == 'd'"}],
  "encoding": {"x": {"field": "x", "type": "quantitative", "title": "steps (k)", "scale": {"domain": [0, 3000], "nice": false}, "axis": {"values": [0,500,1000,1500,2000,2500,3000], "format": "d"}},
   "color": {"field": "m", "type": "nominal", "scale": {"domain": ["OUTPACE(ours)","HGG","SkewFit","ALP-GMM","CURROT","GoalGAN","PLR","VDS"], "range": ["#1f77b4","#ff7f0e","#2ca02c","#d62728","#9467bd","#8c564b","#e377c2","#7f7f7f"]}, "legend": {"title": null, "orient": "none", "legendX": 270, "legendY": 428, "columns": 4}}},
  "layer": [
   {"mark": {"type": "area", "opacity": 0.25, "interpolate": "monotone", "clip": true}, "encoding": {"y": {"field": "lo", "type": "quantitative", "title": "distance", "scale": {"domain": [0.32, 11.68], "nice": false, "zero": false}, "axis": {"values": [2,4,6,8,10]}}, "y2": {"field": "hi"}}},
   {"mark": {"type": "line", "strokeWidth": 1.2, "interpolate": "monotone", "clip": true}, "encoding": {"y": {"field": "y", "type": "quantitative", "title": "distance", "scale": {"domain": [0.32, 11.68], "nice": false, "zero": false}, "axis": {"values": [2,4,6,8,10]}}}}
  ]},
 {"width": 271, "height": 140, "title": {"text": "(e) Sawyer Push", "dx": 12},
  "transform": [{"filter": "datum.p == 'e'"}],
  "encoding": {"x": {"field": "x", "type": "quantitative", "title": "steps (k)", "scale": {"domain": [0, 3000], "nice": false}, "axis": {"values": [0,500,1000,1500,2000,2500,3000], "format": "d"}},
   "color": {"field": "m", "type": "nominal", "scale": {"domain": ["OUTPACE(ours)","HGG","SkewFit","ALP-GMM","CURROT","GoalGAN","PLR","VDS"], "range": ["#1f77b4","#ff7f0e","#2ca02c","#d62728","#9467bd","#8c564b","#e377c2","#7f7f7f"]}, "legend": {"title": null, "orient": "none", "legendX": 270, "legendY": 428, "columns": 4}}},
  "layer": [
   {"mark": {"type": "area", "opacity": 0.25, "interpolate": "monotone", "clip": true}, "encoding": {"y": {"field": "lo", "type": "quantitative", "title": "distance", "scale": {"domain": [0.032, 0.87], "nice": false, "zero": false}, "axis": {"values": [0.1,0.2,0.3,0.4,0.5,0.6,0.7,0.8], "format": ".1f"}}, "y2": {"field": "hi"}}},
   {"mark": {"type": "line", "strokeWidth": 1.2, "interpolate": "monotone", "clip": true}, "encoding": {"y": {"field": "y", "type": "quantitative", "title": "distance", "scale": {"domain": [0.032, 0.87], "nice": false, "zero": false}, "axis": {"values": [0.1,0.2,0.3,0.4,0.5,0.6,0.7,0.8], "format": ".1f"}}}}
  ]},
 {"width": 271, "height": 140, "title": {"text": "(f) Sawyer Pick&Place", "dx": 25},
  "transform": [{"filter": "datum.p == 'f'"}],
  "encoding": {"x": {"field": "x", "type": "quantitative", "title": "steps (k)", "scale": {"domain": [0, 3000], "nice": false}, "axis": {"values": [0,500,1000,1500,2000,2500,3000], "format": "d"}},
   "color": {"field": "m", "type": "nominal", "scale": {"domain": ["OUTPACE(ours)","HGG","SkewFit","ALP-GMM","CURROT","GoalGAN","PLR","VDS"], "range": ["#1f77b4","#ff7f0e","#2ca02c","#d62728","#9467bd","#8c564b","#e377c2","#7f7f7f"]}, "legend": {"title": null, "orient": "none", "legendX": 270, "legendY": 428, "columns": 4}}},
  "layer": [
   {"mark": {"type": "area", "opacity": 0.25, "interpolate": "monotone", "clip": true}, "encoding": {"y": {"field": "lo", "type": "quantitative", "title": "distance", "scale": {"domain": [0.062, 0.794], "nice": false, "zero": false}, "axis": {"values": [0.1,0.2,0.3,0.4,0.5,0.6,0.7], "format": ".1f"}}, "y2": {"field": "hi"}}},
   {"mark": {"type": "line", "strokeWidth": 1.2, "interpolate": "monotone", "clip": true}, "encoding": {"y": {"field": "y", "type": "quantitative", "title": "distance", "scale": {"domain": [0.062, 0.794], "nice": false, "zero": false}, "axis": {"values": [0.1,0.2,0.3,0.4,0.5,0.6,0.7], "format": ".1f"}}}}
  ]}
],
"config": {
 "view": {"fill": "#EAEAF2", "stroke": null},
 "axis": {"domain": false, "ticks": false, "grid": true, "gridColor": "#ffffff", "gridWidth": 1, "labelFont": "DejaVu Sans", "labelFontSize": 8, "labelColor": "#333333", "labelPadding": 3, "labelFlush": false, "labelOverlap": false, "titleFont": "DejaVu Sans", "titleFontSize": 10.5, "titleFontWeight": "normal", "titleColor": "#222222"},
 "axisX": {"titlePadding": 2},
 "axisY": {"titlePadding": 3},
 "title": {"font": "Liberation Serif", "fontSize": 23, "fontWeight": "normal", "color": "#000000", "orient": "bottom", "frame": "group", "offset": 13},
 "legend": {"symbolType": "square", "symbolSize": 50, "symbolOpacity": 1, "symbolStrokeWidth": 0, "labelFont": "DejaVu Sans", "labelFontSize": 11, "labelColor": "#222222", "strokeColor": "#cccccc", "fillColor": "#ffffff", "cornerRadius": 3, "padding": 5, "rowPadding": 6, "columnPadding": 23, "labelOffset": 16, "symbolOffset": 6}
}
}
